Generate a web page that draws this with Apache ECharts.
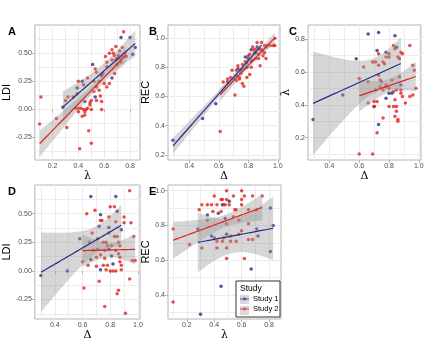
<!DOCTYPE html>
<html>
<head>
    <meta charset="utf-8">
</head>
<body style="margin: 0">
    <div id="main" style="width: 427px; height: 350px"></div>
    <script src="https://cdn.jsdelivr.net/npm/echarts@6/dist/echarts.min.js"></script>
    <script type="text/javascript">

        // A: LDI vs lambda
        var ldiLambda1 = [[0.28,0.02],[0.39,0.19],[0.43,0.25],[0.45,0.07],[0.51,0.40],[0.53,0.11],[0.66,0.28],[0.73,0.64],[0.80,0.64],[0.82,0.49],[0.84,0.55],[0.58,0.30],[0.70,0.45]];
        var ldiLambda2 = [[0.11,0.11],[0.10,-0.13],[0.23,-0.08],[0.30,0.08],[0.31,-0.16],[0.32,0.11],[0.36,0.11],[0.40,0.25],[0.39,0.14],[0.38,0.01],[0.40,0.01],[0.42,0.01],[0.40,-0.02],[0.41,-0.35],[0.45,-0.05],[0.47,0.01],[0.48,-0.19],[0.50,-0.30],[0.49,0.04],[0.50,0.08],[0.49,0.06],[0.50,0.00],[0.52,0.25],[0.53,0.36],[0.54,0.33],[0.56,0.25],[0.56,0.17],[0.57,0.12],[0.58,0.07],[0.58,0.00],[0.54,0.08],[0.60,0.23],[0.62,0.20],[0.61,0.47],[0.62,0.38],[0.62,0.42],[0.64,0.50],[0.66,0.53],[0.67,0.50],[0.69,0.44],[0.70,0.40],[0.70,0.45],[0.71,0.48],[0.72,0.45],[0.69,0.56],[0.74,0.55],[0.75,0.69],[0.77,0.47],[0.64,0.23],[0.59,0.32],[0.66,0.44],[0.68,0.32],[0.44,0.22],[0.47,0.28],[0.52,0.16],[0.54,0.20],[0.44,0.00],[0.46,0.00],[0.45,-0.02],[0.43,-0.06],[0.68,0.48],[0.72,0.52],[0.74,0.47],[0.76,0.50],[0.73,0.42]];

        // B: REC vs delta
        var recDelta1 = [[0.29,0.30],[0.49,0.45],[0.58,0.55],[0.72,0.74],[0.75,0.78],[0.78,0.87],[0.79,0.80],[0.82,0.92],[0.82,0.84],[0.85,0.90],[0.86,0.94],[0.89,0.92],[0.73,0.79],[0.80,0.86],[0.66,0.70]];
        var recDelta2 = [[0.61,0.36],[0.63,0.70],[0.66,0.70],[0.66,0.72],[0.69,0.78],[0.71,0.61],[0.72,0.71],[0.73,0.81],[0.74,0.73],[0.75,0.76],[0.76,0.69],[0.77,0.67],[0.77,0.79],[0.79,0.83],[0.81,0.75],[0.81,0.89],[0.82,0.80],[0.83,0.85],[0.84,0.90],[0.85,0.86],[0.86,0.97],[0.87,0.86],[0.88,0.81],[0.89,0.97],[0.90,0.91],[0.91,0.95],[0.91,0.90],[0.92,0.86],[0.93,0.95],[0.97,0.95],[0.98,0.95],[0.98,1.00],[0.87,0.93],[0.84,0.92],[0.83,0.94],[0.70,0.72],[0.72,0.78],[0.78,0.84],[0.80,0.88],[0.85,0.92],[0.88,0.92],[0.90,0.88],[0.68,0.73],[0.74,0.72],[0.79,0.73],[0.92,0.94],[0.95,0.95],[0.87,0.89],[0.76,0.82]];

        // C: lambda vs delta
        var lambdaDelta1 = [[0.29,0.31],[0.49,0.46],[0.58,0.68],[0.66,0.83],[0.73,0.84],[0.72,0.73],[0.78,0.72],[0.84,0.82],[0.85,0.75],[0.78,0.44],[0.80,0.47],[0.82,0.47],[0.70,0.39],[0.73,0.28],[0.88,0.52]];
        var lambdaDelta2 = [[0.60,0.10],[0.69,0.10],[0.72,0.23],[0.76,0.32],[0.60,0.56],[0.63,0.63],[0.66,0.54],[0.69,0.66],[0.71,0.66],[0.73,0.71],[0.73,0.64],[0.73,0.58],[0.76,0.66],[0.77,0.65],[0.78,0.69],[0.80,0.71],[0.80,0.69],[0.83,0.76],[0.84,0.74],[0.86,0.69],[0.87,0.68],[0.88,0.72],[0.89,0.71],[0.94,0.76],[0.96,0.64],[0.97,0.61],[0.98,0.50],[0.96,0.46],[0.94,0.45],[0.70,0.42],[0.72,0.42],[0.70,0.39],[0.74,0.51],[0.75,0.54],[0.76,0.49],[0.78,0.51],[0.80,0.50],[0.82,0.55],[0.83,0.48],[0.84,0.43],[0.85,0.49],[0.85,0.39],[0.87,0.57],[0.88,0.49],[0.88,0.47],[0.89,0.45],[0.91,0.41],[0.83,0.39],[0.80,0.39],[0.85,0.36],[0.86,0.31],[0.86,0.30],[0.84,0.33],[0.74,0.55],[0.78,0.52],[0.71,0.49],[0.66,0.41]];

        // D: LDI vs delta
        var ldiDelta1 = [[0.30,-0.04],[0.49,0.00],[0.58,0.28],[0.66,0.65],[0.73,0.49],[0.72,0.39],[0.79,0.38],[0.84,0.65],[0.85,0.52],[0.81,0.13],[0.82,0.06],[0.73,0.01],[0.66,0.10],[0.88,0.36],[0.79,0.19]];
        var ldiDelta2 = [[0.94,0.70],[0.61,-0.15],[0.76,-0.31],[0.91,-0.37],[0.85,-0.20],[0.86,-0.17],[0.72,-0.09],[0.94,-0.07],[0.63,0.50],[0.69,0.53],[0.67,0.33],[0.73,0.44],[0.74,0.44],[0.80,0.56],[0.83,0.56],[0.79,0.47],[0.84,0.43],[0.90,0.47],[0.90,0.42],[0.95,0.42],[0.97,0.30],[0.96,0.09],[0.98,0.09],[0.71,0.28],[0.75,0.25],[0.77,0.25],[0.78,0.22],[0.81,0.22],[0.79,0.33],[0.83,0.30],[0.85,0.30],[0.86,0.25],[0.87,0.22],[0.84,0.18],[0.86,0.15],[0.87,0.12],[0.87,0.08],[0.88,0.05],[0.68,0.18],[0.70,0.12],[0.73,0.14],[0.71,0.19],[0.76,0.18],[0.76,0.11],[0.78,0.05],[0.77,0.01],[0.80,0.00],[0.82,0.00],[0.84,0.00],[0.88,0.01],[0.64,0.05],[0.60,0.08],[0.70,0.04],[0.75,0.05],[0.65,0.25]];

        // E: REC vs lambda
        var recLambda1 = [[0.30,0.29],[0.45,0.45],[0.67,0.55],[0.81,0.65],[0.83,0.80],[0.81,0.90],[0.51,0.94],[0.43,0.87],[0.35,0.86],[0.46,0.92],[0.48,0.84],[0.28,0.78],[0.38,0.74],[0.49,0.75],[0.71,0.78],[0.72,0.74]];
        var recLambda2 = [[0.10,0.36],[0.10,0.78],[0.22,0.69],[0.31,0.67],[0.29,0.89],[0.31,0.92],[0.35,0.92],[0.38,0.92],[0.40,0.97],[0.42,0.92],[0.45,0.95],[0.46,0.95],[0.47,0.92],[0.48,0.92],[0.49,0.95],[0.49,1.00],[0.51,0.92],[0.54,0.97],[0.55,0.89],[0.56,0.89],[0.60,1.00],[0.60,0.95],[0.60,0.92],[0.62,0.97],[0.68,0.97],[0.75,0.97],[0.65,0.89],[0.71,0.89],[0.35,0.83],[0.39,0.88],[0.45,0.88],[0.54,0.85],[0.58,0.83],[0.65,0.81],[0.49,0.81],[0.40,0.73],[0.42,0.71],[0.46,0.71],[0.47,0.73],[0.52,0.74],[0.52,0.71],[0.56,0.71],[0.42,0.67],[0.49,0.67],[0.49,0.61],[0.62,0.61],[0.65,0.72],[0.58,0.75],[0.60,0.77],[0.68,0.72]];

        var BLUE = '#262d85';
        var RED = '#e4211c';
        var BAND = 'rgba(153,153,153,0.4)';

        var panels = [
            { tag: 'A', left: 32, top: 25, width: 108, height: 135, xr: [0.063, 0.877], yr: [-0.45, 0.75],
              xt: [0.2, 0.4, 0.6, 0.8], yt: [-0.25, 0, 0.25, 0.5], yDec: 2, xName: 'λ', yName: 'LDI', yGap: 17,
              s1: ldiLambda1, s2: ldiLambda2 },
            { tag: 'B', left: 168, top: 25, width: 112, height: 135, xr: [0.256, 1.015], yr: [0.165, 1.09],
              xt: [0.4, 0.6, 0.8, 1.0], yt: [0.2, 0.4, 0.6, 0.8, 1.0], yDec: 1, xName: 'Δ', yName: 'REC', yGap: 15,
              s1: recDelta1, s2: recDelta2 },
            { tag: 'C', left: 308, top: 25, width: 113, height: 135, xr: [0.256, 1.015], yr: [0.064, 0.885],
              xt: [0.4, 0.6, 0.8, 1.0], yt: [0.2, 0.4, 0.6, 0.8], yDec: 1, xName: 'Δ', yName: 'λ', yGap: 14,
              s1: lambdaDelta1, s2: lambdaDelta2 },
            { tag: 'D', left: 32, top: 185, width: 108, height: 134, xr: [0.256, 1.015], yr: [-0.42, 0.75],
              xt: [0.4, 0.6, 0.8, 1.0], yt: [-0.25, 0, 0.25, 0.5], yDec: 2, xName: 'Δ', yName: 'LDI', yGap: 17,
              s1: ldiDelta1, s2: ldiDelta2 },
            { tag: 'E', left: 168, top: 185, width: 113, height: 134, xr: [0.0625, 0.8875], yr: [0.262, 1.033],
              xt: [0.2, 0.4, 0.6, 0.8], yt: [0.4, 0.6, 0.8, 1.0], yDec: 1, xName: 'λ', yName: 'REC', yGap: 15,
              s1: recLambda1, s2: recLambda2 }
        ];

        // linear fit with 95% confidence band, like geom_smooth(method = 'lm')
        function lmFit(pts) {
            var n = pts.length, mx = 0, my = 0;
            pts.forEach(function (p) { mx += p[0]; my += p[1]; });
            mx /= n; my /= n;
            var sxx = 0, sxy = 0;
            pts.forEach(function (p) { sxx += (p[0] - mx) * (p[0] - mx); sxy += (p[0] - mx) * (p[1] - my); });
            var b = sxy / sxx, a = my - b * mx;
            var sse = 0;
            pts.forEach(function (p) { var r = p[1] - a - b * p[0]; sse += r * r; });
            var s = Math.sqrt(sse / (n - 2));
            var df = n - 2, z = 1.959964;
            var t = z + (Math.pow(z, 3) + z) / (4 * df) + (5 * Math.pow(z, 5) + 16 * Math.pow(z, 3) + 3 * z) / (96 * df * df);
            var xmin = Math.min.apply(null, pts.map(function (p) { return p[0]; }));
            var xmax = Math.max.apply(null, pts.map(function (p) { return p[0]; }));
            var line = [], upper = [], lower = [];
            for (var i = 0; i <= 40; i++) {
                var x = xmin + (xmax - xmin) * i / 40;
                var yh = a + b * x;
                var se = s * Math.sqrt(1 / n + (x - mx) * (x - mx) / sxx);
                line.push([x, yh]);
                upper.push([x, yh + t * se]);
                lower.push([x, yh - t * se]);
            }
            return { line: line, upper: upper, lower: lower };
        }

        function withMinors(major, range) {
            var step = major[1] - major[0];
            var all = major.slice();
            for (var v = major[0] - step / 2; v <= major[major.length - 1] + step; v += step) {
                all.push(+v.toFixed(4));
            }
            return all.filter(function (v) { return v >= range[0] && v <= range[1]; });
        }

        var grids = [], xAxes = [], yAxes = [], series = [], titles = [];

        panels.forEach(function (p, i) {
            grids.push({
                left: p.left, top: p.top, width: p.width, height: p.height,
                show: true, borderColor: '#b3b3b3', borderWidth: 1, backgroundColor: 'transparent'
            });
            titles.push({
                text: p.tag, left: p.left - (i % 3 === 0 ? 24 : 19), top: p.top + 1, padding: 0,
                textStyle: { fontSize: 11, fontWeight: 'bold', color: '#000', fontFamily: 'Liberation Sans' }
            });

            var labelStyle = { fontSize: 7, color: '#4d4d4d', fontFamily: 'Liberation Sans' };
            var dec = p.yDec;
            // main axes: ticks, labels, names
            xAxes.push({
                type: 'value', gridIndex: i, min: p.xr[0], max: p.xr[1], position: 'bottom',
                axisLine: { show: false },
                axisTick: { show: true, length: 3, lineStyle: { color: '#b3b3b3' }, customValues: p.xt },
                axisLabel: Object.assign({ customValues: p.xt, margin: 3, formatter: function (v) { return v.toFixed(1); } }, labelStyle),
                splitLine: { show: false },
                name: p.xName, nameLocation: 'middle', nameGap: 10,
                nameTextStyle: { fontSize: 11, color: '#000', fontFamily: 'DejaVu Serif' }
            });
            yAxes.push({
                type: 'value', gridIndex: i, min: p.yr[0], max: p.yr[1], position: 'left',
                axisLine: { show: false },
                axisTick: { show: true, length: 3, lineStyle: { color: '#b3b3b3' }, customValues: p.yt },
                axisLabel: Object.assign({ customValues: p.yt, margin: 3, formatter: function (v) { return v.toFixed(dec); } }, labelStyle),
                splitLine: { show: false },
                name: p.yName, nameLocation: 'middle', nameGap: p.yGap,
                nameTextStyle: { fontSize: 11, color: '#000', fontFamily: p.yName === 'λ' ? 'DejaVu Serif' : 'Liberation Sans' }
            });
            // grid line axes (major + minor)
            xAxes.push({
                type: 'value', gridIndex: i, min: p.xr[0], max: p.xr[1],
                axisLine: { show: false }, axisLabel: { show: false },
                axisTick: { show: false, customValues: withMinors(p.xt, p.xr) },
                splitLine: { show: true, lineStyle: { color: '#ececec', width: 1 } }
            });
            yAxes.push({
                type: 'value', gridIndex: i, min: p.yr[0], max: p.yr[1],
                axisLine: { show: false }, axisLabel: { show: false },
                axisTick: { show: false, customValues: withMinors(p.yt, p.yr) },
                splitLine: { show: true, lineStyle: { color: '#ececec', width: 1 } }
            });

            var ax = { xAxisIndex: 2 * i, yAxisIndex: 2 * i };
            [[p.s1, BLUE, 'Study 1'], [p.s2, RED, 'Study 2']].forEach(function (s) {
                series.push(Object.assign({
                    type: 'scatter', name: s[2], data: s[0], symbolSize: 3.5,
                    itemStyle: { color: s[1] }, z: 2
                }, ax));
            });
            [[p.s1, BLUE, 'Study 1'], [p.s2, RED, 'Study 2']].forEach(function (s) {
                var f = lmFit(s[0]);
                series.push(Object.assign({
                    type: 'custom', name: s[2] + ' band', data: [[f.line[0][0], f.line[0][1]]], z: 3, clip: true,
                    renderItem: function (params, api) {
                        var poly = f.upper.map(function (q) { return api.coord(q); })
                            .concat(f.lower.slice().reverse().map(function (q) { return api.coord(q); }));
                        return { type: 'polygon', shape: { points: poly }, style: { fill: BAND } };
                    }
                }, ax));
                series.push(Object.assign({
                    type: 'line', name: s[2], data: f.line, showSymbol: false, z: 4,
                    lineStyle: { color: s[1], width: 1.2 }, itemStyle: { color: s[1] }
                }, ax));
            });
        });

        var chart = echarts.init(document.getElementById('main'));
        chart.setOption({
            animation: false,
            backgroundColor: '#fff',
            title: titles,
            grid: grids,
            xAxis: xAxes,
            yAxis: yAxes,
            legend: {
                data: [
                    { name: 'Study 1', icon: 'path://M0,4.4H10V5.6H0Z M5,3.4A1.6,1.6 0 1 1 5,6.6A1.6,1.6 0 1 1 5,3.4Z', itemStyle: { color: BLUE } },
                    { name: 'Study 2', icon: 'path://M0,4.4H10V5.6H0Z M5,3.4A1.6,1.6 0 1 1 5,6.6A1.6,1.6 0 1 1 5,3.4Z', itemStyle: { color: RED } }
                ],
                orient: 'vertical', left: 240, top: 295, padding: 0, itemGap: 2,
                itemWidth: 9, itemHeight: 9, z: 110,
                textStyle: { fontSize: 7.5, color: '#000', fontFamily: 'Liberation Sans', padding: [0, 0, 0, -1] },
                selectedMode: false
            },
            graphic: [
                { type: 'rect', z: 100, shape: { x: 236, y: 281, width: 44, height: 36 },
                  style: { fill: '#fff', stroke: '#333', lineWidth: 1 } },
                { type: 'text', z: 101, x: 240, y: 284,
                  style: { text: 'Study', fontSize: 8.5, fill: '#000', fontFamily: 'Liberation Sans' } },
                { type: 'rect', z: 101, shape: { x: 240, y: 295, width: 9, height: 9 }, style: { fill: '#d9d9d9' } },
                { type: 'rect', z: 101, shape: { x: 240, y: 306, width: 9, height: 9 }, style: { fill: '#d9d9d9' } }
            ],
            series: series
        });

    </script>
</body>
</html>
